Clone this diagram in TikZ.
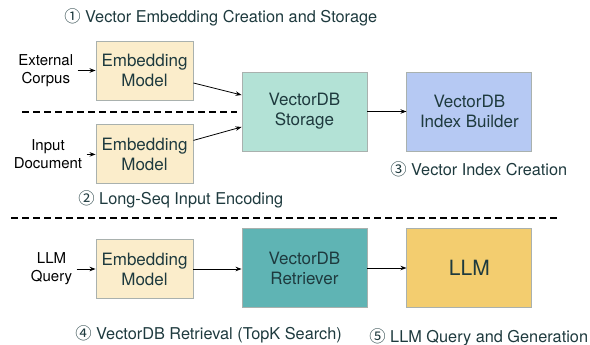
\documentclass[tikz,border=0pt]{standalone}
\usepackage{fontspec}
\setmainfont{TeX Gyre Heros}
\newfontfamily\circfont{Noto Sans CJK SC}
\usetikzlibrary{arrows.meta,positioning}

\definecolor{embfill}{HTML}{FBEDCB}
\definecolor{storefill}{HTML}{B3E2D6}
\definecolor{indexfill}{HTML}{B6C9F3}
\definecolor{retrfill}{HTML}{5FB4B4}
\definecolor{llmfill}{HTML}{F3CD6F}
\definecolor{boxline}{HTML}{A9B1AE}
\definecolor{labeltext}{HTML}{1E3A3E}

\begin{document}
\begin{tikzpicture}[x=1pt, y=-1pt, >={Stealth[length=6pt,width=4.5pt]}, line width=0.8pt]
    \tikzstyle{every node}=[inner sep=0pt]
    \tikzstyle{block}=[draw=boxline, line width=0.9pt, text=labeltext, align=center,
        font=\fontsize{17}{20}\selectfont]
    \tikzstyle{embbox}=[block, fill=embfill, minimum width=97pt, minimum height=59pt]
    \tikzstyle{dbbox}=[block, minimum width=125pt, minimum height=79pt]
    \tikzstyle{sidelabel}=[align=center, inner sep=4pt, font=\fontsize{15}{18}\selectfont]
    \tikzstyle{steplabel}=[anchor=west, text=labeltext, font=\fontsize{16.3}{19}\selectfont]
    \tikzstyle{divider}=[dashed, dash pattern=on 7pt off 4pt, line width=1.1pt]

    \useasboundingbox (0,0) rectangle (590,345);

    \node[embbox] (emb1) at (144.5,70.5) {Embedding\\Model};
    \node[embbox] (emb2) [below=24pt of emb1] {Embedding\\Model};
    \node[dbbox, fill=storefill] (storage) at (304.5,111.5) {VectorDB\\Storage};
    \node[dbbox, fill=indexfill] (index) [right=39pt of storage] {VectorDB\\Index Builder};

    \node[embbox] (emb3) at (144.5,269) {Embedding\\Model};
    \node[dbbox, fill=retrfill] (retriever) at (304.5,268) {VectorDB\\Retriever};
    \node[dbbox, fill=llmfill, font=\fontsize{21}{24}\selectfont] (llm) [right=39pt of retriever] {LLM};

    \node[sidelabel] (corpus) [left=18pt of emb1] {External\\Corpus};
    \node[sidelabel] (doc) [left=9pt of emb2] {Input\\Document};
    \node[sidelabel] (query) [left=19pt of emb3] {LLM\\Query};

    \node[steplabel] (step1) at (64,17) {{\circfont ①} Vector Embedding Creation and Storage};
    \node[steplabel] (step2) at (78,199) {{\circfont ②} Long-Seq Input Encoding};
    \node[steplabel] (step3) at (390,169) {{\circfont ③} Vector Index Creation};
    \node[steplabel] (step4) at (75,334) {{\circfont ④} VectorDB Retrieval (TopK Search)};
    \node[steplabel] (step5) at (369,337) {{\circfont ⑤} LLM Query and Generation};

    \coordinate (cut1a) at (22,112);
    \coordinate (cut1b) at (237,112);
    \coordinate (cut2a) at (11,218);
    \coordinate (cut2b) at (560,218);
    \draw[divider] (cut1a) -- (cut1b);
    \draw[divider] (cut2a) -- (cut2b);

    \draw[->] (corpus) -- (emb1);
    \draw[->] (doc) -- (emb2);
    \draw[->] (query) -- (emb3);
    \draw[->] ([yshift=-12.5pt]emb1.east) -- ([yshift=16.5pt]storage.west);
    \draw[->] ([yshift=14pt]emb2.east) -- ([yshift=-15.5pt]storage.west);
    \draw[->] (storage) -- (index);
    \draw[->] (emb3) -- (retriever.west |- emb3);
    \draw[->] (retriever) -- (llm);
\end{tikzpicture}
\end{document}
